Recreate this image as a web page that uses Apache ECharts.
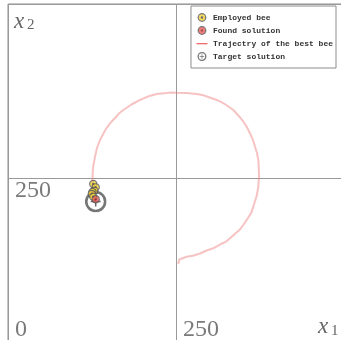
<!DOCTYPE html>
<html>
<head>
<meta charset="utf-8">
<script src="https://cdn.jsdelivr.net/npm/echarts@6/dist/echarts.min.js"></script>
<style>
  html, body { margin: 0; padding: 0; background: #fff; }
  #chart { width: 341px; height: 340px; }
</style>
</head>
<body>
<div id="chart"></div>
<script>
// Search space of the two decision variables
const xRange = [0, 500];
const yRange = [0, 500];
const tickStep = 250;
const xTickLabels = { 0: '0', 250: '250' };
const yTickLabels = { 250: '250' };

// Legend entries
const seriesNames = ['Employed bee', 'Found solution', 'Trajectry of the best bee', 'Target solution'];

// Employed bees at the end of the search
const employedBees = [
  [126.9, 241.4], [130.5, 236.6], [128.4, 231.8],
  [125.7, 229.9], [124.6, 227.0], [126.9, 223.1]
];

// Best solution found
const foundSolution = [[130.5, 219.4]];

// Known optimum
const targetSolution = [[130.5, 216.2]];

// Path followed by the best bee
const trajectory = [
  [253.4, 126.4], [254.9, 132.9], [256.8, 131.6], [265.9, 136.9], [275.2, 138.4],
  [285.7, 141.5], [295.6, 145.8], [305.5, 149.0], [318.5, 155.9], [324.1, 158.3],
  [330.4, 163.4], [340.8, 172.4], [345.2, 176.1], [350.1, 182.5], [358.6, 194.7],
  [362.3, 200.6], [365.0, 208.8], [369.8, 223.4], [371.2, 229.8], [372.5, 237.5],
  [373.5, 251.9], [373.2, 264.4], [372.5, 275.9], [370.5, 285.9], [367.6, 295.0],
  [365.4, 302.1], [362.4, 309.6], [355.2, 323.7], [350.3, 330.9], [346.0, 336.2],
  [335.3, 347.7], [323.7, 355.6], [317.0, 359.4], [310.6, 362.1], [296.1, 367.1],
  [288.9, 369.4], [280.8, 370.7], [265.6, 372.1], [251.0, 372.6], [243.2, 373.0],
  [235.9, 372.1], [221.3, 370.7], [208.3, 367.1], [202.0, 364.3], [196.4, 362.1],
  [183.8, 355.6], [171.6, 347.7], [166.0, 343.5], [161.5, 338.4], [151.8, 328.6],
  [146.9, 322.1], [143.6, 316.8], [136.9, 304.6], [134.8, 299.0], [132.4, 293.1],
  [129.5, 280.6], [127.2, 268.7], [126.3, 262.4], [126.0, 256.8], [125.7, 247.1],
  [125.4, 239.9]
];

function svgSymbol(w, h, body) {
  const svg = "<svg xmlns='http://www.w3.org/2000/svg' width='" + (w * 4) + "' height='" + (h * 4) +
    "' viewBox='0 0 " + w + " " + h + "'>" + body + "</svg>";
  return 'image://data:image/svg+xml;charset=utf-8,' + encodeURIComponent(svg);
}

function beeBody(cx, cy, r, fill, dot) {
  return "<circle cx='" + cx + "' cy='" + cy + "' r='" + r + "' fill='#555'/>" +
    "<circle cx='" + cx + "' cy='" + cy + "' r='" + (r * 0.72) + "' fill='" + fill + "'/>" +
    "<circle cx='" + cx + "' cy='" + cy + "' r='" + (r * 0.28) + "' fill='" + dot + "'/>";
}
function targetBody(cx, cy, r, sw) {
  return "<circle cx='" + cx + "' cy='" + cy + "' r='" + r + "' fill='none' stroke='#555' stroke-width='" + sw + "'/>" +
    "<path d='M" + cx + " " + (cy - 4.5) + " L" + cx + " " + (cy + 4.5) + " M" + (cx - 4.5) + " " + cy +
    " L" + (cx + 4.5) + " " + cy + "' stroke='#444' stroke-width='1.4'/>";
}

// Plot markers (square boxes)
const beeSymbol = svgSymbol(20, 20, beeBody(10, 10, 9.3, '#f2d03a', '#4a4a4a'));
const foundSymbol = svgSymbol(20, 20, beeBody(10, 10, 9.3, '#ee5d58', '#8a2f2f'));
const targetSymbol = svgSymbol(20, 20, targetBody(10, 10, 8.6, 2.4));

// Legend icons (12 x 9 boxes, drawn in a 24 x 18 view)
const beeIcon = svgSymbol(24, 18, beeBody(12, 9, 8.8, '#f2d03a', '#4a4a4a'));
const foundIcon = svgSymbol(24, 18, beeBody(12, 9, 8.8, '#ee5d58', '#8a2f2f'));
const lineIcon = svgSymbol(24, 18, "<rect x='1' y='8' width='22' height='2.6' fill='#f06a6a'/>");
const targetIcon = svgSymbol(24, 18, targetBody(12, 9, 7.7, 2.6));

const gridColor = '#8c8c8c';
const labelFont = 'Liberation Serif';

const chart = echarts.init(document.getElementById('chart'), null, { renderer: 'canvas' });

chart.setOption({
  backgroundColor: '#ffffff',
  animation: false,
  grid: {
    left: 8, top: 4, right: -3, bottom: -12,
    outerBoundsMode: 'none',
    show: true, borderColor: gridColor, borderWidth: 1, backgroundColor: '#ffffff'
  },
  xAxis: {
    type: 'value', min: xRange[0], max: xRange[1], interval: tickStep,
    axisLine: { show: false }, axisTick: { show: false },
    splitLine: { show: true, lineStyle: { color: '#9a9a9a', width: 1 } },
    axisLabel: {
      inside: true, margin: 10, align: 'left', verticalAlign: 'bottom',
      padding: [0, 0, 0, 7],
      fontFamily: labelFont, fontSize: 24, color: '#7a7a7a',
      formatter: v => xTickLabels[v] || ''
    }
  },
  yAxis: {
    type: 'value', min: yRange[0], max: yRange[1], interval: tickStep,
    axisLine: { show: false }, axisTick: { show: false },
    splitLine: { show: true, lineStyle: { color: '#9a9a9a', width: 1 } },
    axisLabel: {
      inside: true, margin: 7, align: 'left', verticalAlign: 'top',
      padding: [1, 0, 0, 0],
      fontFamily: labelFont, fontSize: 24, color: '#7a7a7a',
      formatter: v => yTickLabels[v] || ''
    }
  },
  legend: {
    orient: 'vertical', right: 5, top: 6,
    padding: [7, 3, 7, 5], itemGap: 4, itemWidth: 12, itemHeight: 9,
    backgroundColor: '#ffffff', borderColor: '#8c8c8c', borderWidth: 1, borderRadius: 0,
    selectedMode: false,
    textStyle: { fontFamily: 'Liberation Mono', fontSize: 8, fontWeight: 'bold', color: '#333' },
    data: [
      { name: seriesNames[0], icon: beeIcon },
      { name: seriesNames[1], icon: foundIcon },
      { name: seriesNames[2], icon: lineIcon },
      { name: seriesNames[3], icon: targetIcon }
    ]
  },
  graphic: [
    { type: 'text', left: 14, top: 10, z: 10,
      style: { text: 'x', font: 'italic 23px "Liberation Serif"', fill: '#666' } },
    { type: 'text', left: 27, top: 18, z: 10,
      style: { text: '2', font: '15px "Liberation Serif"', fill: '#666' } },
    { type: 'text', left: 318, top: 315, z: 10,
      style: { text: 'x', font: 'italic 23px "Liberation Serif"', fill: '#666' } },
    { type: 'text', left: 331, top: 324, z: 10,
      style: { text: '1', font: '15px "Liberation Serif"', fill: '#666' } }
  ],
  series: [
    {
      name: seriesNames[2], type: 'line', data: trajectory, z: 2,
      showSymbol: false, symbol: 'none', smooth: false,
      lineStyle: { color: 'rgba(238, 120, 120, 0.45)', width: 2 },
      itemStyle: { color: '#f06a6a' }
    },
    {
      name: seriesNames[3], type: 'scatter', data: targetSolution, z: 3,
      symbol: targetSymbol, symbolSize: 22
    },
    {
      name: seriesNames[0], type: 'scatter', data: employedBees, z: 4,
      symbol: beeSymbol, symbolSize: 9
    },
    {
      name: seriesNames[1], type: 'scatter', data: foundSolution, z: 5,
      symbol: foundSymbol, symbolSize: 9
    }
  ]
});
</script>
</body>
</html>
